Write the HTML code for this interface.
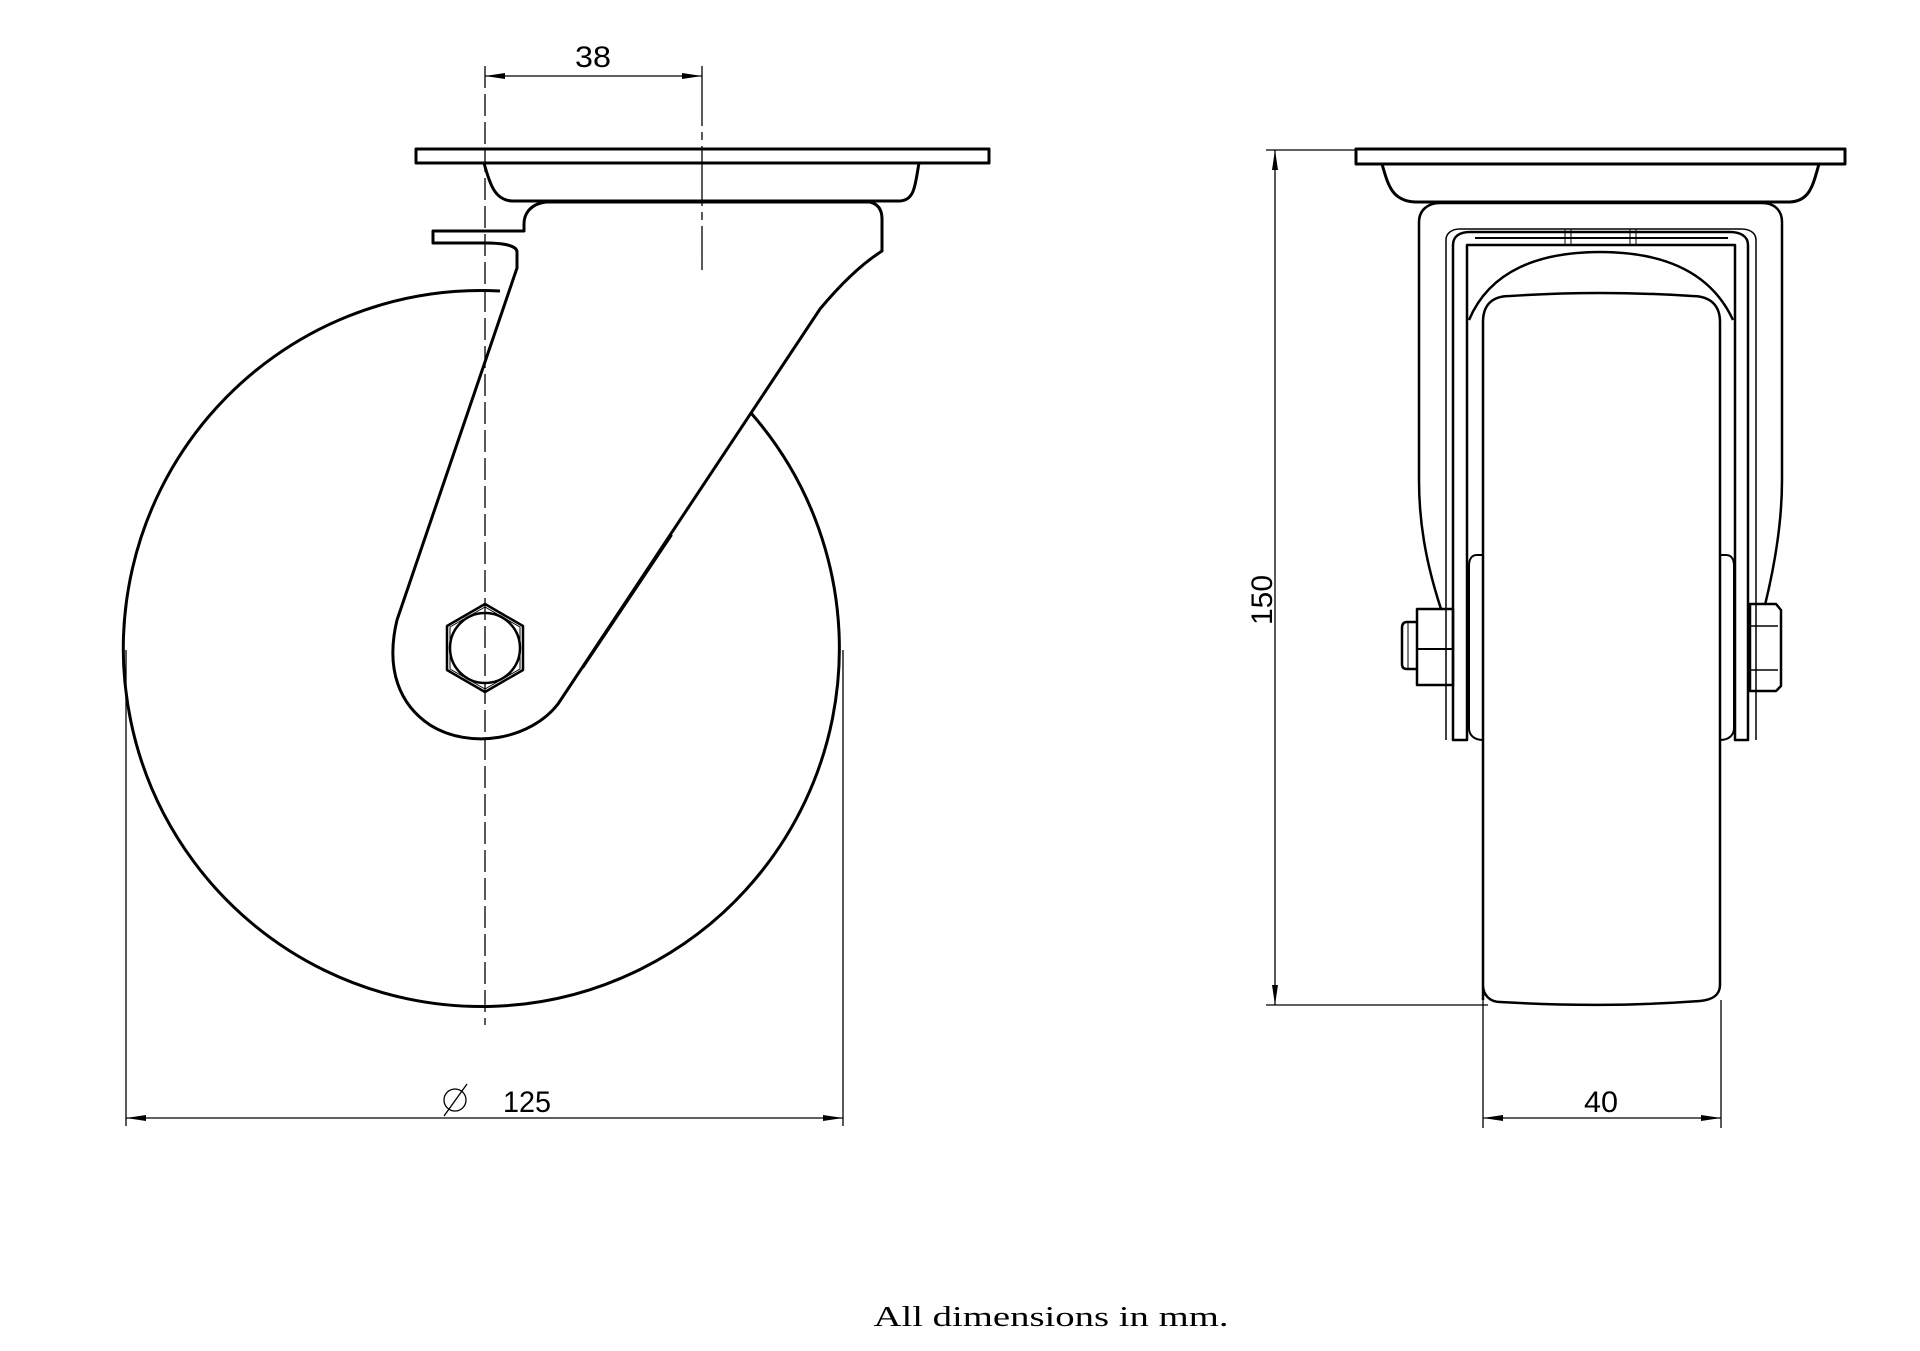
<!DOCTYPE html>
<html><head><meta charset="utf-8"><style>
html,body{margin:0;padding:0;background:#fff;}
svg{display:block}
</style></head><body>
<svg width="1920" height="1351" viewBox="0 0 1920 1351" xmlns="http://www.w3.org/2000/svg">
<defs>
<marker id="a" viewBox="0 0 20 6" refX="20" refY="3" markerWidth="20" markerHeight="6" markerUnits="userSpaceOnUse" orient="auto-start-reverse"><path d="M0,0 L20,3 L0,6 z" fill="#000"/></marker>
</defs>
<g fill="none" stroke="#000" stroke-linejoin="round">
<!-- LEFT VIEW -->
<!-- wheel -->
<path d="M751,413 A358,358 0 1 1 500,291" stroke-width="3"/>
<!-- plate -->
<rect x="416" y="149" width="573" height="14" stroke-width="3"/>
<path d="M484,163 C490,185 495,200 512,201 L900,201 C915,200 915,185 919,163" stroke-width="3"/>
<!-- fork -->
<path d="M546,202 C530,204 524,214 524,224 L524,231 L433,231 L433,243 L485,243 C505,243 517,246 517,252 L517,268 L397,620 C385,670 400,705 430,725 C470,750 530,740 558,704 L820,309 C840,285 860,265 882,251 L882,219 C882,210 878,204 870,202 Z" stroke-width="3"/>
<path d="M583,668 L672,535" stroke-width="2"/>
<!-- hex -->
<polygon points="485,604 523,626 523,670 485,692 447,670 447,626" stroke-width="2.5"/>
<polygon points="485,607 520,627 520,669 485,689 450,669 450,627" stroke-width="1"/>
<circle cx="485" cy="648" r="35" stroke-width="2.5"/>
<!-- center line -->
<line x1="485" y1="66" x2="485" y2="1025" stroke-width="1.3" stroke-dasharray="22,6"/>
<!-- dim 38 -->
<line x1="702" y1="66" x2="702" y2="270" stroke-width="1.3" stroke-dasharray="60,6,8,6"/>
<line x1="485" y1="76" x2="702" y2="76" stroke-width="1.3" marker-start="url(#a)" marker-end="url(#a)"/>
<!-- dim 125 -->
<line x1="126" y1="650" x2="126" y2="1126" stroke-width="1.3"/>
<line x1="843" y1="650" x2="843" y2="1126" stroke-width="1.3"/>
<line x1="126" y1="1118" x2="843" y2="1118" stroke-width="1.3" marker-start="url(#a)" marker-end="url(#a)"/>
<circle cx="455" cy="1100" r="11" stroke-width="1.3"/>
<line x1="444" y1="1116" x2="467" y2="1084" stroke-width="1.3"/>

<!-- RIGHT VIEW -->
<rect x="1356" y="149" width="489" height="15" stroke-width="3"/>
<path d="M1382,164 C1388,185 1392,201 1415,202 L1790,202 C1810,201 1813,185 1819,164" stroke-width="3"/>
<!-- outer fork -->
<path d="M1441,609 C1425,560 1419,520 1419,480 L1419,222 C1419,210 1428,203 1440,203 L1762,203 C1774,203 1782,210 1782,222 L1782,480 C1782,520 1776,560 1765,605" stroke-width="2.5"/>
<path d="M1446,740 L1446,240 C1446,233 1452,229 1460,229 L1741,229 C1750,229 1756,233 1756,240 L1756,740" stroke-width="1.5"/>
<path d="M1453,740 L1453,245 C1453,236 1460,232 1470,232 L1730,232 C1740,232 1748,236 1748,245 L1748,740 L1735,740 L1735,245 L1467,245 L1467,740 Z" stroke-width="2.5"/>
<line x1="1475" y1="238" x2="1728" y2="238" stroke-width="2"/>
<line x1="1565" y1="229" x2="1565" y2="245" stroke-width="1"/><line x1="1571" y1="229" x2="1571" y2="245" stroke-width="1"/>
<line x1="1630" y1="229" x2="1630" y2="245" stroke-width="1"/><line x1="1636" y1="229" x2="1636" y2="245" stroke-width="1"/>
<!-- hub arc -->
<path d="M1469,320 C1490,270 1540,252 1600,252 C1660,252 1710,270 1733,320" stroke-width="2.5"/>
<!-- side bumps -->
<path d="M1483,555 L1477,555 C1471,555 1469,560 1469,566 L1469,728 C1469,735 1474,740 1483,740" stroke-width="2"/>
<path d="M1720,555 L1726,555 C1732,555 1734,560 1734,566 L1734,728 C1734,735 1729,740 1720,740" stroke-width="2"/>
<!-- tire -->
<path d="M1483,1000 L1483,322 C1483,305 1492,296 1510,296 C1570,292 1630,292 1692,296 C1710,296 1720,305 1720,322 L1720,985 C1720,995 1712,1000 1700,1001 C1630,1006 1570,1006 1500,1002 C1490,1002 1483,995 1483,985" stroke-width="2.5"/>
<!-- nuts -->
<rect x="1417" y="609" width="36" height="76" stroke-width="2.5"/>
<line x1="1417" y1="649" x2="1453" y2="649" stroke-width="2"/>
<path d="M1417,622 L1407,622 C1403,622 1402,625 1402,628 L1402,664 C1402,667 1403,669 1407,669 L1417,669" stroke-width="2.5"/>
<line x1="1408" y1="622" x2="1408" y2="669" stroke-width="1"/>
<path d="M1750,604 L1776,604 L1781,610 L1781,686 L1776,691 L1750,691 Z" stroke-width="2.5"/>
<line x1="1750" y1="626" x2="1778" y2="626" stroke-width="1.5"/>
<line x1="1750" y1="670" x2="1778" y2="670" stroke-width="1.5"/>
<!-- dim 150 -->
<line x1="1266" y1="150" x2="1356" y2="150" stroke-width="1.3"/>
<line x1="1266" y1="1005" x2="1488" y2="1005" stroke-width="1.3"/>
<line x1="1275" y1="150" x2="1275" y2="1005" stroke-width="1.3" marker-start="url(#a)" marker-end="url(#a)"/>
<!-- dim 40 -->
<line x1="1483" y1="1000" x2="1483" y2="1128" stroke-width="1.3"/>
<line x1="1721" y1="1000" x2="1721" y2="1128" stroke-width="1.3"/>
<line x1="1483" y1="1118" x2="1721" y2="1118" stroke-width="1.3" marker-start="url(#a)" marker-end="url(#a)"/>
</g>
<g font-family="'Liberation Sans Narrow','Liberation Sans',sans-serif" font-size="30" fill="#000" font-weight="300">
<text x="593" y="67" text-anchor="middle" textLength="36" lengthAdjust="spacingAndGlyphs">38</text>
<text x="503" y="1112" textLength="48" lengthAdjust="spacingAndGlyphs">125</text>
<text x="1601" y="1112" text-anchor="middle" textLength="34" lengthAdjust="spacingAndGlyphs">40</text>
<text transform="translate(1272,600) rotate(-90)" text-anchor="middle" textLength="50" lengthAdjust="spacingAndGlyphs">150</text>
</g>
<text x="1051" y="1326" text-anchor="middle" font-family="'Liberation Serif',serif" font-size="29" textLength="355" lengthAdjust="spacingAndGlyphs">All dimensions in mm.</text>
</svg>
</body></html>
